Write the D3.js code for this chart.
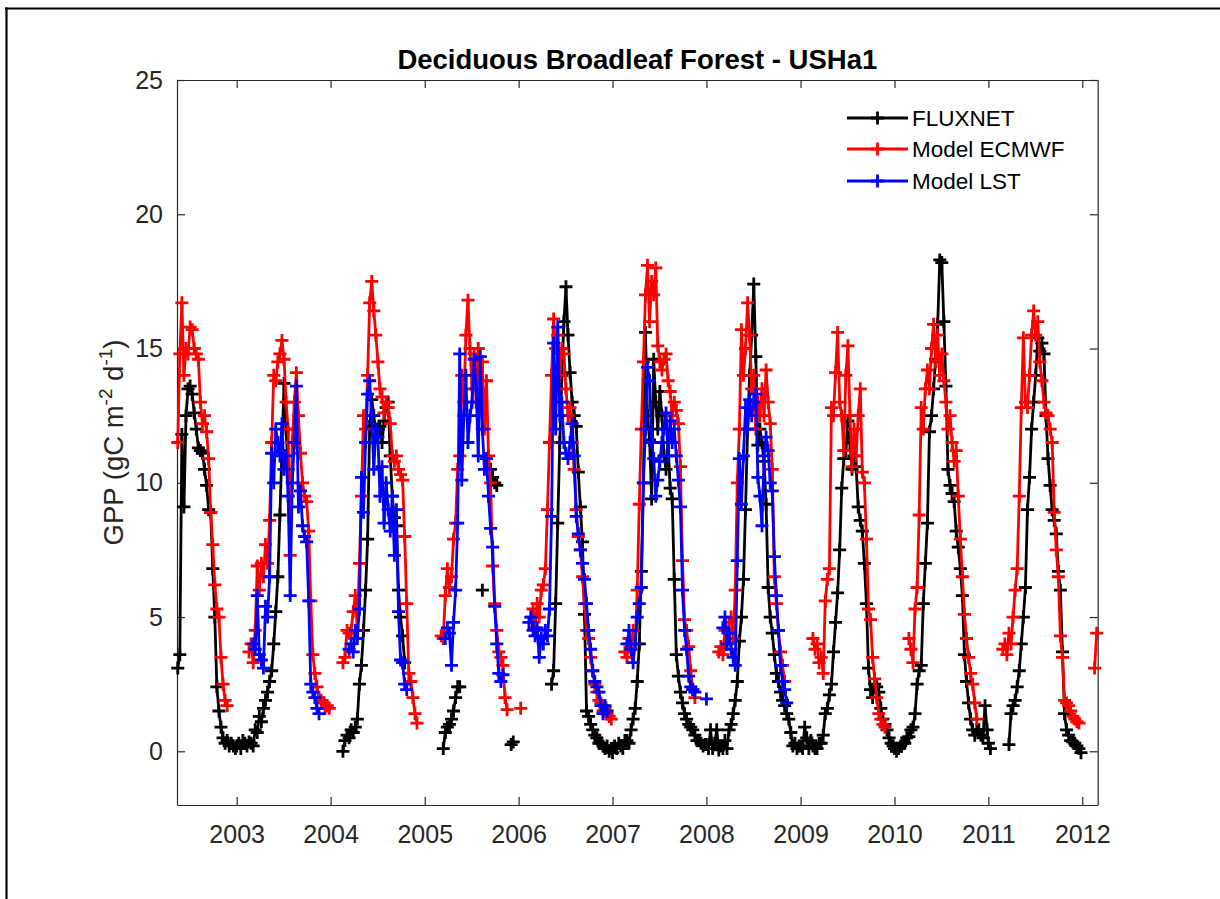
<!DOCTYPE html>
<html>
<head>
<meta charset="utf-8">
<script src="https://cdn.jsdelivr.net/npm/d3@7"></script>
<style>
  html, body { margin: 0; padding: 0; background: #ffffff; }
  svg { display: block; font-family: "Liberation Sans", Arial, Helvetica, sans-serif; }
</style>
</head>
<body>
<svg id="chart" width="1220" height="899"></svg>
<script>
// ---- chart text ----
const chartTitle = "Deciduous Broadleaf Forest - USHa1";
const seriesNames = ["FLUXNET", "Model ECMWF", "Model LST"];
const seriesColors = ["#000000", "#ff0000", "#0000ff"];
const yearTicks = [2003, 2004, 2005, 2006, 2007, 2008, 2009, 2010, 2011, 2012];
const gppTicks = [0, 5, 10, 15, 20, 25];

// ---- GPP (gC m-2 d-1) on the 8-day composite calendar ----
// each run: [year, first composite index (0 = DOY 1, 1 = DOY 9, ...), values]
const fluxnetRuns = [
  [2002, 17, [3.1, 3.6, 11.8, 9.1, 12.5, 13.5, 13.6, 13.3, 12.6, 12.0, 11.3, 11.2, 11.1, 10.5, 9.9, 9.0, 8.9, 6.8, 5.0, 2.4, 1.5, 0.9, 0.5, 0.3, 0.4, 0.2, 0.3, 0.2, 0.1]],
  [2003, 0, [0.2, 0.3, 0.1, 0.4, 0.3, 0.2, 0.35, 0.3, 0.2, 0.8, 0.7, 1.3, 1.1, 1.6, 1.9, 2.2, 2.6, 3.0, 4.0, 5.2, 6.5, 8.8, 11.2, 13.7, 12.0, 10.5]],
  [2004, 6, [0.0, 0.4, 0.6, 0.5, 0.8, 0.7, 0.9, 1.2, 2.5, 3.2, 4.5, 6.0, 7.9, 12.1, 13.1, 12.5, 11.8, 12.0, 12.1, 11.5, 12.3, 12.8, 13.0, 11.0, 9.5, 8.7, 8.4, 6.0, 5.0, 4.3, 3.3]],
  [2005, 9, [0.1, 0.7, 0.9, 1.0, 1.2, 1.5, 2.0, 2.4, 2.4]],
  [2005, 28, [6.0]],
  [2005, 32, [10.5, 10.2, 10.0, 9.9]],
  [2005, 42, [0.25, 0.35]],
  [2006, 16, [2.5, 3.0, 5.5, 8.5, 11.5, 14.0, 16.0, 17.3, 15.5, 14.1, 13.0, 12.5, 12.1, 10.4, 9.1, 7.8, 5.1, 1.5, 1.3, 1.0, 0.8, 0.6, 0.5, 0.3, 0.3, 0.2, 0.1, 0.2, 0.0, 0.1]],
  [2007, 0, [-0.05, 0.2, 0.1, 0.3, 0.2, 0.1, 0.4, 0.4, 0.3, 0.8, 1.2, 1.6, 2.6, 4.0, 6.7, 10.0, 15.6, 12.5, 11.6, 9.4, 14.6, 13.0, 12.0, 13.4, 12.5, 11.0, 10.5, 11.5, 9.8, 9.4, 6.4, 3.6, 2.8, 2.2, 1.8, 1.4, 1.2, 1.0, 0.9, 0.8, 0.6, 0.4, 0.4, 0.3, 0.2, 0.25]],
  [2008, 0, [0.25, 0.1, 0.8, 0.1, 0.3, 0.8, 0.05, 0.2, 0.1, 0.4, 0.1, 0.8, 1.0, 1.4, 1.9, 2.6, 4.1, 5.0, 6.4, 9.0, 12.0, 14.0, 15.5, 17.4, 14.7, 11.4, 12.0, 11.5, 10.8, 9.2, 6.1, 5.0, 4.4, 3.6, 2.9, 2.6, 2.2, 1.9, 1.7, 1.4, 1.2, 0.7, 0.2, 0.3, 0.1, 0.2]],
  [2009, 0, [0.2, 0.1, 0.9, 0.5, 0.1, 0.4, 0.2, 0.1, 0.1, 0.3, 0.3, 0.6, 1.4, 1.6, 2.1, 2.5, 3.7, 4.8, 5.9, 7.5, 9.8, 10.9, 11.2, 12.3, 11.5, 10.5, 11.0, 10.6, 9.1, 8.6, 8.2, 7.0, 5.5, 3.1, 2.3, 2.0, 2.5, 2.4, 2.2, 1.6, 1.2, 1.0, 0.8, 0.5, 0.3, 0.2]],
  [2010, 0, [0.1, 0.0, 0.1, 0.2, 0.3, 0.3, 0.5, 0.55, 0.8, 0.9, 1.4, 2.5, 3.0, 3.2, 5.5, 7.0, 8.5, 11.9, 12.5, 13.5, 14.6, 15.9, 18.3, 18.2, 16.0, 13.6, 10.5, 9.9, 9.6, 9.3, 8.2, 7.6, 6.8, 5.8, 3.6, 2.6, 1.8, 1.2, 0.8, 0.6, 0.8, 0.8, 0.6, 0.5, 1.7, 0.8]],
  [2011, 0, [0.3, 0.1]],
  [2011, 10, [0.25, 1.4, 1.7, 1.9, 2.4, 3.0, 4.0, 5.0, 6.1, 9.0, 10.2, 12.0, 13.0, 14.0, 15.4, 14.9, 15.2, 14.8, 12.5, 10.9, 9.9, 9.0, 8.6, 8.1, 6.7, 6.0, 3.7, 1.4, 0.8, 0.6, 0.4, 0.35, 0.3, 0.2, 0.1, -0.05]]
];

const ecmwfRuns = [
  [2002, 17, [11.5, 14.8, 16.7, 14.0, 15.0, 14.8, 15.8, 15.7, 15.0, 14.8, 14.6, 13.0, 12.2, 12.5, 11.9, 10.9, 8.9, 7.7, 6.2, 5.3, 5.0, 3.5, 2.5, 1.9, 1.7]],
  [2003, 6, [3.7, 4.0, 3.3, 4.5, 6.9, 6.0, 7.0, 6.5, 7.7, 7.0, 8.6, 11.5, 14.0, 13.8, 14.5, 14.8, 15.3, 14.6, 13.0, 12.0, 7.3, 11.5, 13.0, 14.1, 12.5, 11.1, 10.0, 9.5, 9.3, 8.2, 5.6, 3.6, 2.9, 2.4, 2.0, 1.9, 1.8, 1.6, 1.7, 1.6]],
  [2004, 6, [3.3, 3.5, 4.5, 4.4, 4.5, 5.2, 5.8, 4.5, 7.0, 9.5, 12.5, 12.0, 14.0, 16.7, 17.5, 16.4, 15.5, 14.5, 13.5, 13.2, 12.6, 13.0, 12.8, 12.2, 11.0, 10.8, 11.0, 10.5, 10.3, 10.1, 8.0, 5.5, 2.9, 2.6, 2.0, 1.4, 1.05]],
  [2005, 8, [4.3, 4.2, 5.8, 6.8, 6.1, 6.5, 7.9, 8.5, 10.5, 11.0, 14.0, 13.0, 15.5, 16.8, 15.0, 13.5, 14.8, 13.0, 15.0, 13.5, 14.5, 12.0, 13.8, 11.0, 10.0, 6.9, 5.5, 4.5, 3.7, 3.5, 3.2, 2.0, 1.55]],
  [2006, 1, [1.6]],
  [2006, 6, [5.0, 5.3, 4.6, 5.5, 5.0, 6.0, 6.2, 6.8, 9.0, 11.5, 14.0, 16.1, 15.0, 15.5, 14.0, 15.0, 14.8, 13.5, 12.5, 12.8, 11.5, 10.5, 9.0, 8.0, 7.5, 6.5, 5.5, 4.5, 4.2, 3.5, 3.0, 2.5, 2.2, 1.9, 1.8, 1.5, 1.6, 1.4, 1.3, 1.2]],
  [2007, 6, [3.7, 3.5, 4.2, 4.0, 4.5, 4.0, 6.0, 9.2, 12.0, 14.5, 17.0, 18.1, 16.0, 17.5, 17.0, 18.0, 15.1, 14.5, 14.2, 14.6, 14.8, 13.8, 13.4, 12.5, 13.0, 12.7, 12.2, 10.6, 7.1, 4.9, 4.5, 3.9, 3.0, 2.3, 2.0]],
  [2008, 6, [3.7, 3.9, 3.6, 4.5, 4.0, 4.8, 5.0, 4.2, 6.0, 10.0, 12.0, 15.7, 14.0, 15.0, 16.7, 15.5, 13.5, 14.0, 12.0, 13.0, 12.5, 13.5, 12.5, 14.2, 13.0, 12.2, 10.5, 6.5, 5.5, 4.5, 3.7, 3.2, 2.6]],
  [2009, 6, [4.2, 3.8, 4.0, 3.3, 3.5, 2.9, 5.6, 6.4, 6.8, 12.8, 12.5, 14.1, 15.6, 13.0, 12.5, 11.2, 14.0, 15.1, 12.5, 10.6, 12.0, 11.0, 12.5, 13.5, 10.4, 10.0, 7.9, 5.3, 4.9, 3.5, 2.7, 2.0, 1.4, 1.2, 1.0, 0.9]],
  [2010, 7, [4.2, 3.8, 3.3, 5.3, 6.1, 8.8, 12.8, 12.0, 13.5, 14.2, 13.5, 15.0, 15.9, 14.5, 15.5, 14.0, 14.8, 13.8, 13.0, 12.0, 12.5, 11.5, 10.8, 11.2, 9.5, 7.9, 6.5, 5.1, 4.2, 3.5, 2.9, 2.5, 1.8, 1.2]],
  [2011, 7, [3.8, 4.0, 3.6, 4.4, 4.0, 5.0, 6.0, 6.8, 9.5, 12.8, 15.4, 13.0, 12.8, 14.0, 15.5, 16.4, 15.5, 16.0, 14.5, 13.8, 13.0, 12.6, 12.5, 12.0, 11.5, 8.9, 7.5, 6.5, 4.3, 3.5, 1.9, 1.8, 1.7, 1.5, 1.3, 1.2, 1.1, 1.05]],
  [2012, 6, [3.1, 4.4]]
];

const lstRuns = [
  [2003, 8, [4.0, 3.8, 5.8, 3.6, 3.4, 3.1, 5.4, 5.0, 6.5, 11.1, 10.0, 12.0, 11.5, 11.0, 12.2, 10.5, 11.0, 9.5, 5.8, 10.0, 11.5, 13.6, 9.1, 9.7, 8.4, 8.0, 7.8, 5.6, 2.5, 2.2, 2.0, 1.6, 1.4]],
  [2004, 9, [3.8, 4.0, 3.7, 4.5, 4.2, 5.3, 10.2, 8.9, 11.5, 13.3, 13.8, 12.5, 10.5, 12.0, 11.7, 9.5, 10.6, 8.5, 10.0, 9.0, 8.2, 9.5, 7.3, 9.0, 5.2, 3.4, 3.3, 2.5, 2.3]],
  [2005, 10, [4.2, 4.6, 4.4, 3.2, 4.8, 6.0, 8.5, 14.8, 10.1, 12.5, 14.0, 11.5, 12.5, 13.0, 14.6, 13.5, 11.0, 14.7, 12.0, 10.5, 10.9, 9.5, 8.3, 7.6, 5.4, 4.0, 2.9, 2.6, 2.85]],
  [2006, 5, [4.8, 5.0, 4.5, 4.3, 4.6, 3.5, 4.2, 4.0, 4.5, 4.3, 5.3, 8.75, 15.2, 12.0, 15.8, 12.5, 13.0, 11.5, 11.1, 10.9, 11.5, 12.2, 11.0, 8.75, 8.1, 7.5, 7.0, 6.4, 5.5, 4.5, 3.8, 3.0, 2.6, 2.4, 2.2, 1.7, 1.4, 1.7, 1.5]],
  [2007, 7, [4.0, 4.5, 3.8, 3.3, 4.0, 5.0, 5.5, 6.1, 10.0, 12.0, 14.3, 13.8, 11.5, 10.9, 9.5, 10.1, 10.8, 11.5, 12.0, 12.6, 11.0, 12.3, 11.5, 12.0, 11.0, 10.1, 9.1, 6.0, 4.5, 3.8, 2.8, 2.4, 2.3, 2.2]],
  [2008, 0, [1.95]],
  [2008, 8, [4.6, 5.0, 4.0, 4.4, 3.8, 3.5, 3.2, 7.1, 10.9, 9.2, 11.0, 12.8, 12.0, 13.1, 12.5, 13.0, 13.3, 10.2, 9.5, 8.4, 11.0, 11.7, 11.2, 10.0, 9.7, 7.25, 5.8, 4.5, 3.2, 2.6, 2.3, 1.8]]
];

// ---- layout ----
const W = 1220, H = 899;
const plot = { left: 177, right: 1097.7, top: 80, bottom: 805 };
const axisColor = "#262626";
const lineWidth = 2.8;
const plusHalf = 6.5;

const svg = d3.select("#chart");

// composite date: DOY 1 + 8*index of the given year
const compositeDate = (year, idx) => new Date(Date.UTC(year, 0, 1 + 8 * idx));

// expand runs onto a continuous composite calendar; gaps become null
function expand(runs) {
  const slots = new Map();
  runs.forEach(([year, start, values]) => {
    values.forEach((v, k) => slots.set(year * 100 + start + k, v));
  });
  const keys = Array.from(slots.keys()).sort((a, b) => a - b);
  const first = keys[0], last = keys[keys.length - 1];
  const out = [];
  for (let y = Math.floor(first / 100); y <= Math.floor(last / 100); y++) {
    for (let i = 0; i < 46; i++) {
      const key = y * 100 + i;
      if (key < first || key > last) continue;
      out.push({ date: compositeDate(y, i), value: slots.has(key) ? slots.get(key) : null });
    }
  }
  return out;
}

const x = d3.scaleUtc()
  .domain([new Date(Date.UTC(2002, 4, 14)), new Date(Date.UTC(2012, 2, 1))])
  .range([plot.left, plot.right]);
const y = d3.scaleLinear().domain([-2, 25]).range([plot.bottom, plot.top]);

// figure frame (top and left edges)
svg.append("line").attr("x1", 5).attr("x2", W).attr("y1", 8.5).attr("y2", 8.5)
  .attr("stroke", "#000").attr("stroke-width", 2.2);
svg.append("line").attr("x1", 6.5).attr("x2", 6.5).attr("y1", 7.5).attr("y2", H)
  .attr("stroke", "#000").attr("stroke-width", 2.2);

// axes on all four sides with inward ticks
const yearDates = yearTicks.map(yr => new Date(Date.UTC(yr, 0, 1)));
const tickFont = 25;

const gBottom = svg.append("g").attr("transform", `translate(0,${plot.bottom})`)
  .call(d3.axisBottom(x).tickValues(yearDates).tickFormat(d3.utcFormat("%Y"))
    .tickSize(-8).tickSizeOuter(0).tickPadding(20));
const gTop = svg.append("g").attr("transform", `translate(0,${plot.top})`)
  .call(d3.axisTop(x).tickValues(yearDates).tickFormat("").tickSize(-8).tickSizeOuter(0));
const gLeft = svg.append("g").attr("transform", `translate(${plot.left},0)`)
  .call(d3.axisLeft(y).tickValues(gppTicks).tickFormat(d3.format("d"))
    .tickSize(-8).tickSizeOuter(0).tickPadding(14));
const gRight = svg.append("g").attr("transform", `translate(${plot.right},0)`)
  .call(d3.axisRight(y).tickValues(gppTicks).tickFormat("").tickSize(-8).tickSizeOuter(0));

[gBottom, gTop, gLeft, gRight].forEach(g => {
  g.select(".domain").attr("stroke", axisColor).attr("stroke-width", 1.2);
  g.selectAll(".tick line").attr("stroke", axisColor).attr("stroke-width", 1.2);
  g.selectAll(".tick text").attr("fill", axisColor).attr("font-size", tickFont)
    .attr("font-family", "Liberation Sans, Arial, sans-serif");
});

// title
svg.append("text")
  .attr("x", (plot.left + plot.right) / 2).attr("y", 69)
  .attr("text-anchor", "middle").attr("font-weight", "bold").attr("font-size", 27.5)
  .attr("fill", "#000").text(chartTitle);

// y-axis label with superscripts
const yl = svg.append("text")
  .attr("transform", `translate(123,${(plot.top + plot.bottom) / 2}) rotate(-90)`)
  .attr("text-anchor", "middle").attr("font-size", 27.5).attr("fill", axisColor);
yl.append("tspan").text("GPP (gC m");
yl.append("tspan").attr("font-size", 19).attr("dy", -11).text("-2");
yl.append("tspan").attr("dy", 11).text(" d");
yl.append("tspan").attr("font-size", 19).attr("dy", -11).text("-1");
yl.append("tspan").attr("dy", 11).text(")");

// series
const plusPath = `M${-plusHalf},0H${plusHalf}M0,${-plusHalf}V${plusHalf}`;
const line = d3.line()
  .defined(d => d.value !== null)
  .x(d => x(d.date)).y(d => y(d.value));

[fluxnetRuns, ecmwfRuns, lstRuns].forEach((runs, s) => {
  const pts = expand(runs);
  const g = svg.append("g").attr("class", "series");
  g.append("path").datum(pts)
    .attr("d", line).attr("fill", "none")
    .attr("stroke", seriesColors[s]).attr("stroke-width", lineWidth)
    .attr("stroke-linejoin", "round");
  g.selectAll("path.mk").data(pts.filter(d => d.value !== null)).join("path")
    .attr("class", "mk")
    .attr("transform", d => `translate(${x(d.date)},${y(d.value)})`)
    .attr("d", plusPath).attr("fill", "none")
    .attr("stroke", seriesColors[s]).attr("stroke-width", lineWidth);
});

// legend
const legendRows = [118, 149, 181];
const lg = svg.append("g");
seriesNames.forEach((name, s) => {
  const yy = legendRows[s];
  lg.append("line").attr("x1", 847).attr("x2", 908).attr("y1", yy).attr("y2", yy)
    .attr("stroke", seriesColors[s]).attr("stroke-width", lineWidth);
  lg.append("path").attr("transform", `translate(877.5,${yy})`).attr("d", plusPath)
    .attr("fill", "none").attr("stroke", seriesColors[s]).attr("stroke-width", lineWidth);
  lg.append("text").attr("x", 912).attr("y", yy).attr("dy", "0.36em")
    .attr("font-size", 22.5).attr("fill", "#000").text(name);
});
</script>
</body>
</html>
